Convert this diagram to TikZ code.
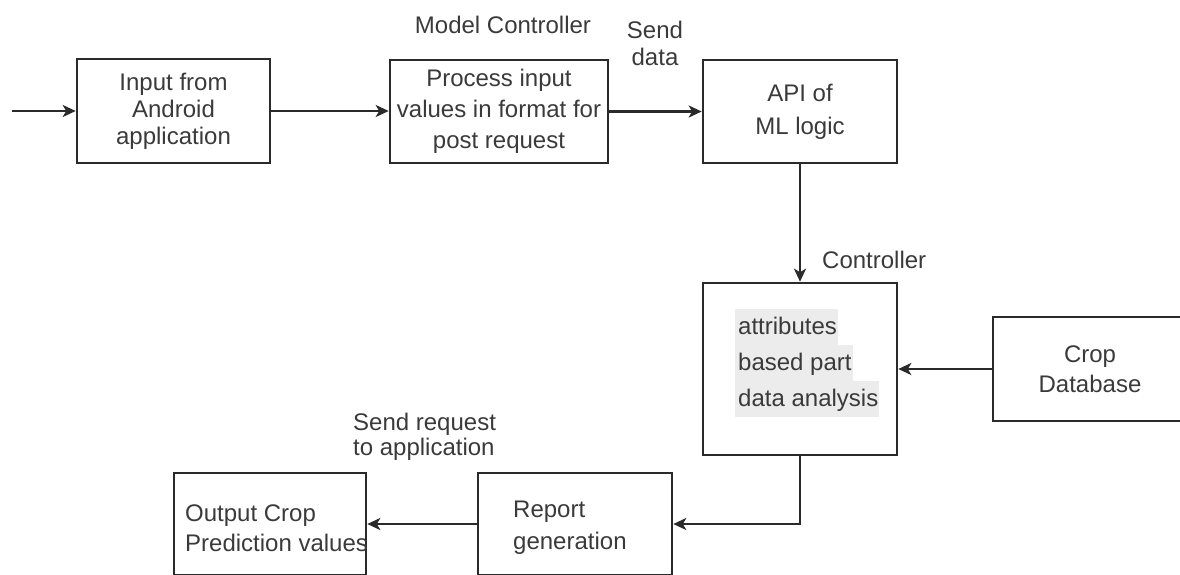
\documentclass[tikz,border=0pt]{standalone}
\usepackage{fontspec}
\setmainfont{Liberation Sans}
\usetikzlibrary{arrows.meta}
\definecolor{ink}{RGB}{42,42,42}
\definecolor{txt}{RGB}{58,58,58}
\definecolor{hl}{RGB}{236,236,236}
\setlength{\fboxsep}{0pt}
% one shaded line of text
\newcommand\hlline[1]{\colorbox{hl}{\hspace{3pt}\strut#1\hspace{1pt}}}
\begin{document}
\begin{tikzpicture}[x=1pt,y=-1pt,
  box/.style={draw=ink, line width=2.6pt, inner sep=0pt, text=txt, align=center,
              font=\fontsize{24}{29}\selectfont},
  lbl/.style={inner sep=0pt, text=txt, font=\fontsize{24}{27}\selectfont},
  link/.style={draw=ink, line width=2.6pt, -{Stealth[length=13pt,width=12pt,inset=3.5pt]}}]
\useasboundingbox (0,0) rectangle (1180,574);
\begin{scope}
\clip (0,0) rectangle (1180,574);

% top row
\coordinate (start) at (12,111);
\node[box, minimum width=193pt, minimum height=104pt, font=\fontsize{24}{27}\selectfont]
  (inp) at (173.5,111) {Input from\\Android\\application};
\node[box, minimum width=218pt, minimum height=103pt, font=\fontsize{24}{31}\selectfont]
  (proc) at (499,111.5) {Process input\\values in format for\\post request};
\node[box, minimum width=194pt, minimum height=103pt, font=\fontsize{24}{33}\selectfont]
  (api) at (800,111.5) {API of\\ML logic};

% middle row
\node[box, minimum width=194pt, minimum height=172pt] (attr) at (800,369) {};
\node[inner sep=0pt, anchor=west, align=left, text=txt, font=\fontsize{24}{36}\selectfont]
  (attrtxt) at (735,363) {\hlline{attributes}\\\hlline{based part}\\\hlline{data analysis}};
\node[box, minimum width=194pt, minimum height=104pt, font=\fontsize{24}{30}\selectfont]
  (db) at (1090,369) {Crop\\Database};

% bottom row
\node[box, minimum width=194pt, minimum height=102pt] (rep) at (575,524) {};
\node[lbl, anchor=west, align=left, font=\fontsize{24}{32}\selectfont]
  (reptxt) at (513,528) {Report\\generation};
\node[box, minimum width=192pt, minimum height=102pt] (out) at (270,524) {};
\node[lbl, anchor=west, align=left, font=\fontsize{24}{30}\selectfont]
  (outtxt) at (185,528) {Output Crop\\Prediction values};

% free labels
\node[lbl] (mc) at (503,25) {Model Controller};
\node[lbl, align=center] (sd) at (655,43) {Send\\data};
\node[lbl, anchor=west] (ctl) at (822,260) {Controller};
\node[lbl, anchor=west, align=left, font=\fontsize{24}{25}\selectfont]
  (sr) at (353,437) {Send request\\to application};

% connectors
\draw[link] (start) -- (inp.west);
\draw[link] (inp.east) -- (inp.east -| proc.west);
\draw[link] (proc.east) -- (api.west);
\draw[link] (api.south) -- (attr.north);
\draw[link] (db.west) -- (attr.east);
\draw[link] (attr.south) |- (rep.east);
\draw[link] (rep.west) -- (out.east);
\end{scope}
\end{tikzpicture}
\end{document}
